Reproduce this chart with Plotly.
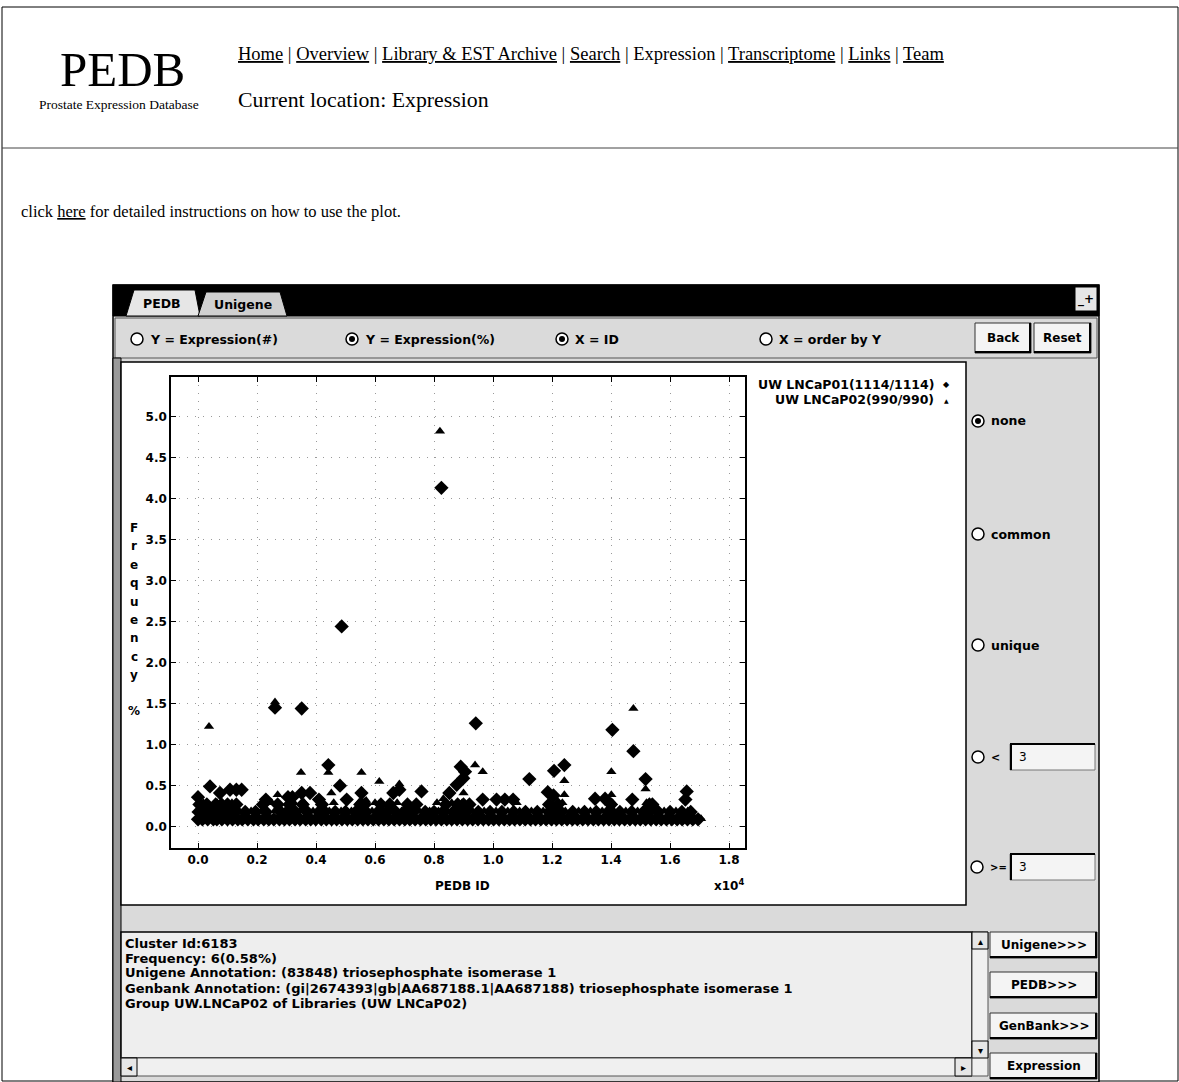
import plotly.graph_objects as go

W, H = 1179, 1082

# ---- data (PEDB cluster id, expression %) ----
# UW LNCaP01 (diamonds)
lnc01_x = [0, 150, 330, 520, 640, 810, 1000, 1170, 1350, 1500, 1690, 1880, 2040, 2230,
           2400, 2570, 2760, 2930, 3100, 3290, 3460, 3650, 3820, 3990, 4180, 4350, 4530,
           4700, 4880, 5060, 5230, 5410, 5590, 5760, 5940, 6120, 6300, 6470, 6650, 6830,
           7010, 7180, 7360, 7540, 7720, 7890, 8070, 8250, 8430, 8600, 8780, 8960, 9140,
           9310, 9490, 9670, 9850, 10020, 10200, 10380, 10560, 10730, 10910, 11090, 11270,
           11440, 11620, 11800, 11980, 12150, 12330, 12510, 12690, 12860, 13040, 13220,
           13400, 13570, 13750, 13930, 14110, 14280, 14460, 14640, 14820, 14990, 15170,
           15350, 15530, 15700, 15880, 16060, 16240, 16410, 16590, 16770, 16950,
           20, 260, 400, 700, 880, 1120, 1250, 1600, 1950, 2300, 2800, 3050, 3300, 3700,
           4100, 4300, 4650, 5000, 5350, 5500, 5700, 6100, 6400, 6700, 7000, 7300, 7700,
           8000, 8300, 8650, 8850, 9100, 9500, 9900, 10300, 10700, 11100, 11500, 11900,
           12100, 12300, 12700, 13100, 13500, 13900, 14000, 14300, 14700, 15100, 15300,
           15600, 16000, 16400, 16700,
           50, 300, 600, 800, 1000, 1300, 2200, 2700, 3100, 3550, 4200, 5500, 5650, 6200,
           6500, 7100, 7400, 8400, 8800, 9000, 9200, 11900, 12200, 14000, 15300, 15400,
           0, 407, 746, 1085, 1300, 1480, 2610, 3050, 3200, 3515, 3515, 3797, 4418, 4813,
           4870, 5040, 5540, 6620, 6825, 7575, 8250, 8520, 8768, 8904, 8990, 9050, 9415,
           9650, 10119, 10400, 10680, 11230, 11855, 12050, 12068, 12417, 13458, 13797,
           14045, 14757, 14720, 15170, 16565, 16520, 4100, 2300]
lnc01_y = [0.09] * 97 + [0.18] * 54 + [0.27] * 26 + [
           0.36, 0.49, 0.41, 0.45, 0.45, 0.45, 1.45, 0.36, 0.36, 1.44, 0.41, 0.41, 0.75,
           0.50, 2.44, 0.33, 0.41, 0.41, 0.45, 0.43, 4.13, 0.41, 0.51, 0.73, 0.59, 0.67,
           1.26, 0.33, 0.33, 0.33, 0.33, 0.58, 0.42, 0.38, 0.68, 0.75, 0.34, 0.34, 1.18,
           0.92, 0.33, 0.58, 0.43, 0.33, 0.33, 0.33]

# UW LNCaP02 (triangles)
lnc02_x = [80, 240, 420, 590, 730, 900, 1090, 1260, 1430, 1600, 1780, 1960, 2130, 2310,
           2480, 2660, 2850, 3010, 3190, 3370, 3550, 3730, 3900, 4080, 4260, 4440, 4610,
           4790, 4970, 5140, 5320, 5500, 5680, 5850, 6030, 6210, 6390, 6560, 6740, 6920,
           7100, 7270, 7450, 7630, 7810, 7980, 8160, 8340, 8520, 8690, 8870, 9050, 9230,
           9400, 9580, 9760, 9940, 10110, 10290, 10470, 10650, 10820, 11000, 11180, 11360,
           11530, 11710, 11890, 12070, 12240, 12420, 12600, 12780, 12950, 13130, 13310,
           13490, 13660, 13840, 14020, 14200, 14370, 14550, 14730, 14910, 15080, 15260,
           15440, 15620, 15790, 15970, 16150, 16330, 16500, 16680, 16860, 17050,
           120, 560, 950, 1400, 1800, 2150, 2600, 2950, 3450, 3900, 4450, 4850, 5200, 5600,
           5900, 6250, 6550, 6900, 7150, 7500, 7850, 8150, 8450, 8750, 8950, 9300, 9700,
           10100, 10500, 10900, 11300, 11700, 12000, 12450, 12900, 13300, 13700, 14100,
           14500, 14900, 15250, 15450, 15800, 16200, 16600,
           180, 650, 1150, 2500, 3250, 3600, 4600, 5450, 6000, 6750, 8100, 8600, 8950,
           12350, 13950, 14050, 15200,
           373, 2610, 3492, 4418, 4520, 5540, 5540, 6145, 6825, 8200, 8317, 9000, 9390,
           9650, 12417, 12417, 14010, 14010, 14757, 15170, 2700, 5700, 10800]
lnc02_y = [0.097] * 97 + [0.19] * 45 + [0.29] * 17 + [
           1.22, 1.52, 0.66, 0.66, 0.41, 0.66, 0.32, 0.55, 0.52, 4.82, 0.34, 0.41, 0.75,
           0.67, 0.56, 0.39, 0.67, 0.39, 1.44, 0.46, 0.39, 0.32, 0.29]

x_ticks = [0, 2000, 4000, 6000, 8000, 10000, 12000, 14000, 16000, 18000]
x_labels = ['0.0', '0.2', '0.4', '0.6', '0.8', '1.0', '1.2', '1.4', '1.6', '1.8']
y_ticks = [0.0, 0.5, 1.0, 1.5, 2.0, 2.5, 3.0, 3.5, 4.0, 4.5, 5.0]

SERIF = 'Liberation Serif, Times New Roman, serif'
SANS = 'DejaVu Sans, Verdana, sans-serif'
GRAY = '#dadada'


def px(x):
    return x / W


def py(y):
    return 1 - y / H


shapes = []
annotations = []


def rect(x0, y0, x1, y1, fill='rgba(0,0,0,0)', color='black', width=1):
    shapes.append(dict(type='rect', xref='paper', yref='paper',
                       x0=px(x0), x1=px(x1), y0=py(y0), y1=py(y1),
                       fillcolor=fill, line=dict(color=color, width=width),
                       layer='below'))


def hline(x0, x1, y, color='black', width=1):
    shapes.append(dict(type='line', xref='paper', yref='paper',
                       x0=px(x0), x1=px(x1), y0=py(y), y1=py(y),
                       line=dict(color=color, width=width), layer='below'))


def vline(x, y0, y1, color='black', width=1):
    shapes.append(dict(type='line', xref='paper', yref='paper',
                       x0=px(x), x1=px(x), y0=py(y0), y1=py(y1),
                       line=dict(color=color, width=width), layer='below'))


def text(x, y, s, size=13, family=SANS, anchor='left', color='black', bold=False):
    if bold:
        s = '<b>' + s + '</b>'
    annotations.append(dict(xref='paper', yref='paper', x=px(x), y=py(y), text=s,
                            showarrow=False, xanchor=anchor, yanchor='middle',
                            font=dict(size=size, family=family, color=color)))


def radio(x, y, label, on=False, size=12.5):
    shapes.append(dict(type='circle', xref='paper', yref='paper',
                       x0=px(x - 6), x1=px(x + 6), y0=py(y + 6), y1=py(y - 6),
                       fillcolor='white', line=dict(color='black', width=1.5)))
    if on:
        shapes.append(dict(type='circle', xref='paper', yref='paper',
                           x0=px(x - 3), x1=px(x + 3), y0=py(y + 3), y1=py(y - 3),
                           fillcolor='black', line=dict(color='black', width=0)))
    text(x + 11, y, label, size=size, bold=True)


def button(x0, y0, x1, y1, label):
    rect(x0, y0, x1, y1, fill='#f4f4f4', color='#333', width=1)
    hline(x0, x1, y1 - 1, width=2)
    vline(x1 - 1, y0, y1, width=2)
    text((x0 + x1) / 2, (y0 + y1) / 2, label, size=12, anchor='center', bold=True)


# ---- web page header ----
rect(2, 7, 1178, 1081, color='black', width=1)
hline(2, 1178, 148, color='#444', width=1)
text(58, 69, 'PEDB', size=49, family=SERIF)
text(37, 104, 'Prostate Expression Database', size=13.5, family=SERIF)
text(236, 54, '<u>Home</u> | <u>Overview</u> | <u>Library &amp; EST Archive</u> | '
              '<u>Search</u> | Expression | <u>Transcriptome</u> | <u>Links</u> | <u>Team</u>',
     size=18.5, family=SERIF)
text(236, 100, 'Current location: Expression', size=21.8, family=SERIF)
text(19, 211, 'click <u>here</u> for detailed instructions on how to use the plot.',
     size=16.5, family=SERIF)

# ---- applet frame ----
rect(113, 285, 1099, 1082, fill=GRAY, color='black', width=1.5)
rect(113, 285, 1099, 316, fill='black', color='black')
shapes.append(dict(type='path', xref='paper', yref='paper', layer='below',
                   path=f'M {px(126)} {py(316)} L {px(134)} {py(290)} L {px(195)} {py(290)} '
                        f'L {px(200)} {py(316)} Z',
                   fillcolor='#e6e6e6', line=dict(color='black', width=1)))
shapes.append(dict(type='path', xref='paper', yref='paper', layer='below',
                   path=f'M {px(198)} {py(316)} L {px(206)} {py(292)} L {px(280)} {py(292)} '
                        f'L {px(287)} {py(316)} Z',
                   fillcolor='#d0d0d0', line=dict(color='black', width=1)))
text(162, 303, 'PEDB', size=12.5, anchor='center', bold=True)
text(243, 304, 'Unigene', size=12.5, anchor='center', bold=True)
rect(1075, 287, 1097, 311, fill='#e6e6e6', color='black')
text(1086, 299, '_+', size=12, anchor='center', bold=True)

# control bar
rect(115, 318, 1097, 358, fill=GRAY, color='#555')
radio(137, 339, 'Y = Expression(#)')
radio(352, 339, 'Y = Expression(%)', on=True)
radio(562, 339, 'X = ID', on=True)
radio(766, 339, 'X = order by Y')
button(975, 323, 1031, 353, 'Back')
button(1034, 323, 1091, 353, 'Reset')

# plot panel + side panel
rect(113, 358, 121, 1082, fill='#9a9a9a', color='black', width=1)
rect(121, 362, 966, 905, fill='white', color='black', width=1.5)
radio(978, 421, 'none', on=True)
radio(978, 534, 'common')
radio(978, 645, 'unique')
radio(978, 757, '&lt;', size=11)
rect(1010, 744, 1095, 770, fill='#f4f4f4', color='#777')
hline(1010, 1095, 744, width=2)
vline(1011, 744, 770, width=2)
text(1017, 757, '3', size=12)
radio(977, 867, '&gt;=', size=10)
rect(1010, 854, 1095, 880, fill='#f4f4f4', color='#777')
hline(1010, 1095, 854, width=2)
vline(1011, 854, 880, width=2)
text(1017, 867, '3', size=12)

# info panel
rect(121, 932, 972, 1058, fill='#eeeeee', color='black', width=1.5)
info = ['Cluster Id:6183',
        'Frequency: 6(0.58%)',
        'Unigene Annotation: (83848) triosephosphate isomerase 1',
        'Genbank Annotation: (gi|2674393|gb|AA687188.1|AA687188) triosephosphate isomerase 1',
        'Group UW.LNCaP02 of Libraries (UW LNCaP02)']
for i, line in enumerate(info):
    text(123, 943 + i * 15, line, size=13, bold=True)
rect(121, 1058, 972, 1076, fill='#f0f0f0', color='#555')
rect(121, 1058, 137, 1076, fill='#e6e6e6', color='black')
text(129, 1067, '◂', size=10, anchor='center')
rect(955, 1058, 972, 1076, fill='#e6e6e6', color='black')
text(963, 1067, '▸', size=10, anchor='center')
rect(972, 932, 988, 1076, fill='#f0f0f0', color='#555')
rect(972, 932, 988, 949, fill='#e6e6e6', color='black')
text(980, 941, '▴', size=10, anchor='center')
rect(972, 1041, 988, 1058, fill='#e6e6e6', color='black')
text(980, 1050, '▾', size=10, anchor='center')
button(990, 932, 1097, 958, 'Unigene&gt;&gt;&gt;')
button(990, 972, 1097, 998, 'PEDB&gt;&gt;&gt;')
button(990, 1013, 1097, 1039, 'GenBank&gt;&gt;&gt;')
button(990, 1053, 1097, 1079, 'Expression')

# ---- axis titles and legend ----
for i, ch in enumerate('Frequency'):
    text(134, 528 + i * 18.4, ch, size=12, anchor='center', bold=True)
text(134, 711, '%', size=12, anchor='center', bold=True)
text(462, 886, 'PEDB ID', size=12, anchor='center', bold=True)
text(712, 885, 'x10<sup>4</sup>', size=12, bold=True)
text(936, 384, 'UW LNCaP01(1114/1114)', size=12.5, anchor='right', bold=True)
text(936, 399, 'UW LNCaP02(990/990)', size=12.5, anchor='right', bold=True)
text(946, 385, '◆', size=8, anchor='center', family='DejaVu Sans')
text(946, 400, '▲', size=6, anchor='center', family='DejaVu Sans')

fig = go.Figure()
fig.add_trace(go.Scatter(x=lnc01_x, y=lnc01_y, mode='markers', name='UW LNCaP01(1114/1114)',
                         marker=dict(symbol='diamond', size=11, color='black',
                                     line=dict(width=0))))
fig.add_trace(go.Scatter(x=lnc02_x, y=lnc02_y, mode='markers', name='UW LNCaP02(990/990)',
                         marker=dict(symbol='triangle-up', size=9, color='black',
                                     line=dict(width=0))))

axis_common = dict(showline=True, linecolor='black', linewidth=1.5, mirror='ticks',
                   ticks='inside', ticklen=5, tickcolor='black', zeroline=False,
                   showgrid=True, gridcolor='#9a9a9a', griddash='1px,7px', gridwidth=1,
                   tickfont=dict(family=SANS, size=12, color='black', weight='bold'))

fig.update_layout(
    width=W, height=H,
    margin=dict(l=0, r=0, t=0, b=0),
    paper_bgcolor='white',
    plot_bgcolor='white',
    showlegend=False,
    shapes=shapes,
    annotations=annotations,
    xaxis=dict(domain=[px(171), px(745)], range=[-915, 18540],
               tickvals=x_ticks, ticktext=x_labels, **axis_common),
    yaxis=dict(domain=[py(848), py(377)], range=[-0.26, 5.48],
               tickvals=y_ticks, tickformat='.1f', **axis_common),
)

# the page body has a default 8px margin; drop it so the figure fills the window
fig.write_html("out.html", config={'displayModeBar': False},
               post_script="document.body.style.margin='0px';")
